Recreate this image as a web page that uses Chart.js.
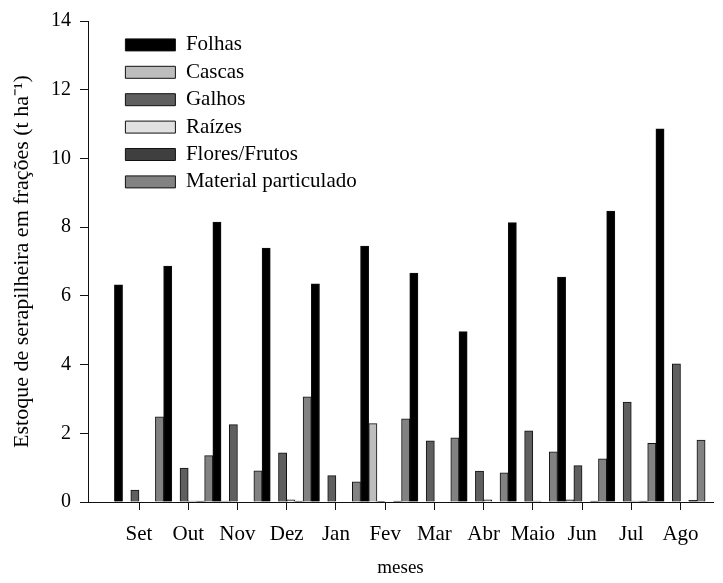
<!DOCTYPE html>
<html>
<head>
<meta charset="utf-8">
<script src="https://cdn.jsdelivr.net/npm/chart.js@4"></script>
<style>
  body { margin: 0; background: #fff; }
</style>
</head>
<body>
<canvas id="grafico" width="723" height="583"></canvas>
<script>
const meses = ['Set', 'Out', 'Nov', 'Dez', 'Jan', 'Fev', 'Mar', 'Abr', 'Maio', 'Jun', 'Jul', 'Ago'];
const folhas = [6.32, 6.87, 8.15, 7.39, 6.35, 7.45, 6.66, 4.96, 8.13, 6.55, 8.47, 10.86];
const cascas = [0, 0, 0.03, 0, 0, 2.28, 0, 0, 0, 0.06, 0, 0];
const galhos = [0.35, 0.99, 2.25, 1.43, 0.77, 0.02, 1.78, 0.9, 2.07, 1.06, 2.91, 4.02];
const raizes = [0, 0.03, 0, 0.06, 0, 0, 0, 0.06, 0.03, 0, 0.03, 0];
const floresFrutos = [0, 0.03, 0, 0.03, 0, 0.03, 0, 0, 0, 0.03, 0.03, 0.05];
const materialParticulado = [2.48, 1.35, 0.91, 3.06, 0.59, 2.42, 1.87, 0.85, 1.46, 1.26, 1.71, 1.8];
const yTicks = [0, 2, 4, 6, 8, 10, 12, 14];

const fonte = 'Liberation Serif, Times New Roman, serif';
Chart.defaults.font.family = fonte;
Chart.defaults.font.size = 20;
Chart.defaults.color = '#000';

function serie(nome, valores, cor) {
    return {
        label: nome,
        data: valores.map((v, i) => ({x: i + 1, y: v})),
        backgroundColor: cor,
        borderColor: '#111',
        borderWidth: 1,
        barPercentage: 1,
        categoryPercentage: 1
    };
}

// empurra a legenda para dentro do grafico
const moverLegenda = {
    id: 'moverLegenda',
    afterLayout(chart) {
        chart.legend.left += 31;
        chart.legend.top += 28;
    }
};

const ctx = document.getElementById('grafico').getContext('2d');
new Chart(ctx, {
    type: 'bar',
    data: {
        datasets: [
            serie('Folhas', folhas, '#000000'),
            serie('Cascas', cascas, '#bdbdbd'),
            serie('Galhos', galhos, '#5f5f5f'),
            serie('Raízes', raizes, '#e0e0e0'),
            serie('Flores/Frutos', floresFrutos, '#3f3f3f'),
            serie('Material particulado', materialParticulado, '#828282')
        ]
    },
    options: {
        responsive: false,
        animation: false,
        devicePixelRatio: 1,
        layout: { padding: { left: 0, top: 21, right: 10, bottom: 0 } },
        plugins: {
            tooltip: { enabled: false },
            legend: {
                position: 'chartArea',
                align: 'start',
                labels: {
                    boxWidth: 50,
                    boxHeight: 12,
                    padding: 6.4,
                    font: { size: 21 }
                }
            }
        },
        scales: {
            x: {
                type: 'linear',
                offset: false,
                min: -0.036,
                max: 12.66,
                afterBuildTicks: s => { s.ticks = meses.map((m, i) => ({ value: i + 1 })); },
                afterFit: s => { s.height = 81; },
                ticks: {
                    padding: 12,
                    maxRotation: 0,
                    font: { size: 21 },
                    callback: (v) => meses[v - 1]
                },
                grid: { drawOnChartArea: false, tickLength: 8, color: '#111', offset: false },
                border: { color: '#111' },
                title: { display: true, text: 'meses', font: { size: 19 }, padding: { top: 0, bottom: 4 } }
            },
            y: {
                min: 0,
                max: 14,
                afterBuildTicks: s => { s.ticks = yTicks.map(v => ({ value: v })); },
                afterFit: s => { s.width = 88; },
                ticks: { padding: 9, font: { size: 20 } },
                grid: { drawOnChartArea: false, tickLength: 8, color: '#111' },
                border: { color: '#111' },
                title: {
                    display: true,
                    text: 'Estoque de serapilheira em frações (t ha⁻¹)',
                    font: { size: 22 },
                    padding: { top: 9, bottom: 0 }
                }
            }
        }
    },
    plugins: [moverLegenda]
});
</script>
</body>
</html>
